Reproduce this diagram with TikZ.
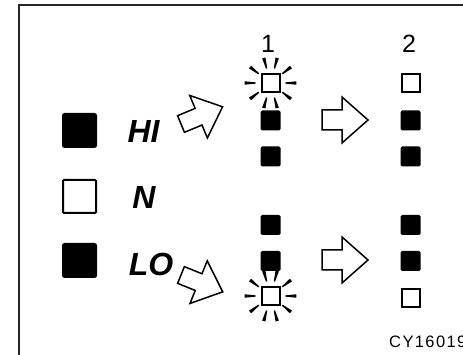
\documentclass[tikz,border=0pt]{standalone}
\usepackage{fontspec}
\setmainfont{Liberation Sans}
\begin{document}
\begin{tikzpicture}[x=1pt,y=-1pt,
  bigfill/.style={fill=black,minimum size=35pt,inner sep=0pt,rounded corners=2.5pt},
  bigopen/.style={draw=black,line width=2pt,minimum size=33pt,inner sep=0pt,rounded corners=1pt},
  smallfill/.style={fill=black,minimum size=20pt,inner sep=0pt,rounded corners=1.5pt},
  smallopen/.style={draw=black,line width=2pt,minimum size=18pt,inner sep=0pt},
  lbl/.style={font=\fontsize{32}{32}\selectfont\bfseries\itshape,inner sep=0pt},
  num/.style={font=\fontsize{25}{25}\selectfont,inner sep=0pt},
  blockarrow/.style={draw=black,line width=1.5pt,fill=white,line join=miter},
  ray/.style={fill=black}
]
\useasboundingbox (0,0) rectangle (463,355);
\clip (0,0) rectangle (463,355);
% frame
\draw[line width=1.3pt,black!85] (19,360) -- (19,5) -- (470,5);

% legend
\node[bigfill] (lhi) at (79.5,130.5) {};
\node[bigopen] (ln) at (79.5,196.5) {};
\node[bigfill] (llo) at (79.5,260.5) {};
\node[lbl] (thi) at (143.5,131.5) {HI};
\node[lbl] (tn) at (144,197) {N};
\node[lbl] (tlo) at (151,264.5) {LO};

% column headers
\node[num] (h1) at (268,43.5) {1};
\node[num] (h2) at (409,43.5) {2};

% column 1
\node[smallopen] (a1) at (270.5,83) {};
\node[smallfill] (a2) at (270.5,120.5) {};
\node[smallfill] (a3) at (270.5,156.5) {};
\node[smallfill] (a4) at (270.5,225) {};
\node[smallfill] (a5) at (270.5,261) {};
\node[smallopen] (a6) at (270.5,296) {};

% column 2
\node[smallopen] (b1) at (410.5,83.5) {};
\node[smallfill] (b2) at (410.5,120.5) {};
\node[smallfill] (b3) at (410.5,156.5) {};
\node[smallfill] (b4) at (410.5,225) {};
\node[smallfill] (b5) at (410.5,261) {};
\node[smallopen] (b6) at (410.5,298) {};

% flash rays
\foreach \c in {a1,a6}{
  \begin{scope}[shift={(\c.center)}]
    \foreach \a in {0,38,75,105,142,180,218,255,285,322}{
      \fill[ray] (\a-2.5:15) -- (\a-3.8:26) -- (\a+3.8:26) -- (\a+2.5:15) -- cycle;
    }
  \end{scope}
}

% block arrows
\begin{scope}[shift={(322,120)}]
  \draw[blockarrow] (0,-10) -- (20,-10) -- (20,-23) -- (46,0) -- (20,23) -- (20,10) -- (0,10) -- cycle;
\end{scope}
\begin{scope}[shift={(322,260)}]
  \draw[blockarrow] (0,-10) -- (20,-10) -- (20,-23) -- (46,0) -- (20,23) -- (20,10) -- (0,10) -- cycle;
\end{scope}
\begin{scope}[shift={(181,124)},rotate=22.5]
  \draw[blockarrow] (0,-9) -- (19,-9) -- (19,-23) -- (45,0) -- (19,23) -- (19,9) -- (0,9) -- cycle;
\end{scope}
\begin{scope}[shift={(181,275)},rotate=-22]
  \draw[blockarrow] (0,-9) -- (19,-9) -- (19,-23) -- (45,0) -- (19,23) -- (19,9) -- (0,9) -- cycle;
\end{scope}

% code
\node[font=\fontsize{16.5}{16.5}\selectfont,inner sep=0pt,anchor=west] (code) at (389,341.5) {C\kern1.4pt Y\kern1.4pt 1\kern1.4pt 6\kern1.4pt 0\kern1.4pt 1\kern1.4pt 9};
\end{tikzpicture}
\end{document}
